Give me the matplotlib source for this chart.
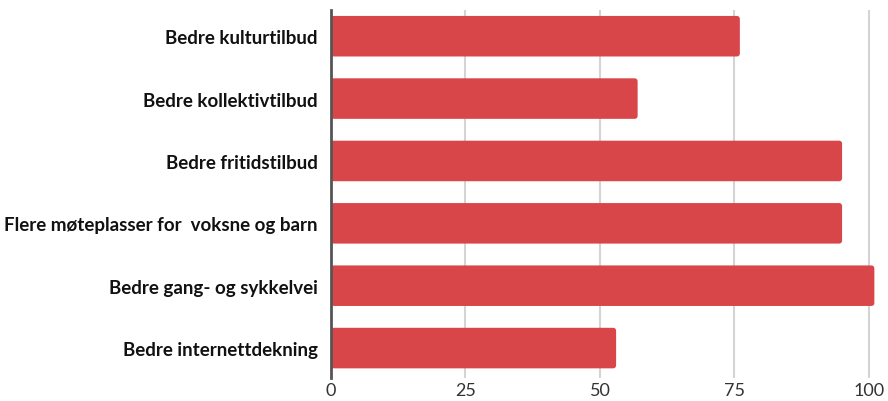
import matplotlib.pyplot as plt
from matplotlib.patches import FancyBboxPatch

# categories and values
categories = [
    'Bedre kulturtilbud',
    'Bedre kollektivtilbud',
    'Bedre fritidstilbud',
    'Flere møteplasser for  voksne og barn',
    'Bedre gang- og sykkelvei',
    'Bedre internettdekning',
]
values = [76, 57, 95, 95, 101, 53]
xticks = [0, 25, 50, 75, 100]

plt.rcParams['font.family'] = ['Lato', 'DejaVu Sans']

fig = plt.figure(figsize=(8.88, 4.02), dpi=100)
ax = fig.add_axes([0.3727, 0.0572, 0.618, 0.9154])

ypos = list(range(len(categories)))
bars = ax.barh(ypos, values, height=0.65, color='#d94649', zorder=3)

# swap the square bars for slightly rounded ones
for b in bars:
    x, y = b.get_x(), b.get_y()
    w, h = b.get_width(), b.get_height()
    b.set_visible(False)
    ax.add_patch(FancyBboxPatch((x, y), w, h,
                                boxstyle='round,pad=0,rounding_size=0.6',
                                mutation_aspect=0.087,
                                facecolor='#d94649', edgecolor='none', zorder=3))

ax.set_xlim(0, 102)
ax.set_ylim(5.48, -0.42)
ax.set_yticks(ypos)
ax.set_yticklabels(categories, fontsize=13.5, fontweight='bold', color='#111111')
ax.set_xticks(xticks)
ax.set_xticklabels([str(t) for t in xticks], fontsize=13, color='#333333')

ax.grid(axis='x', color='#d4d4d4', linewidth=1.5, zorder=0)
ax.tick_params(axis='both', length=0)
ax.tick_params(axis='y', pad=9.5)
ax.tick_params(axis='x', pad=3)

for side in ['top', 'right', 'bottom']:
    ax.spines[side].set_visible(False)
ax.spines['left'].set_color('#555555')
ax.spines['left'].set_linewidth(2)
ax.spines['left'].set_zorder(4)

fig.savefig('out.png', dpi=100)
